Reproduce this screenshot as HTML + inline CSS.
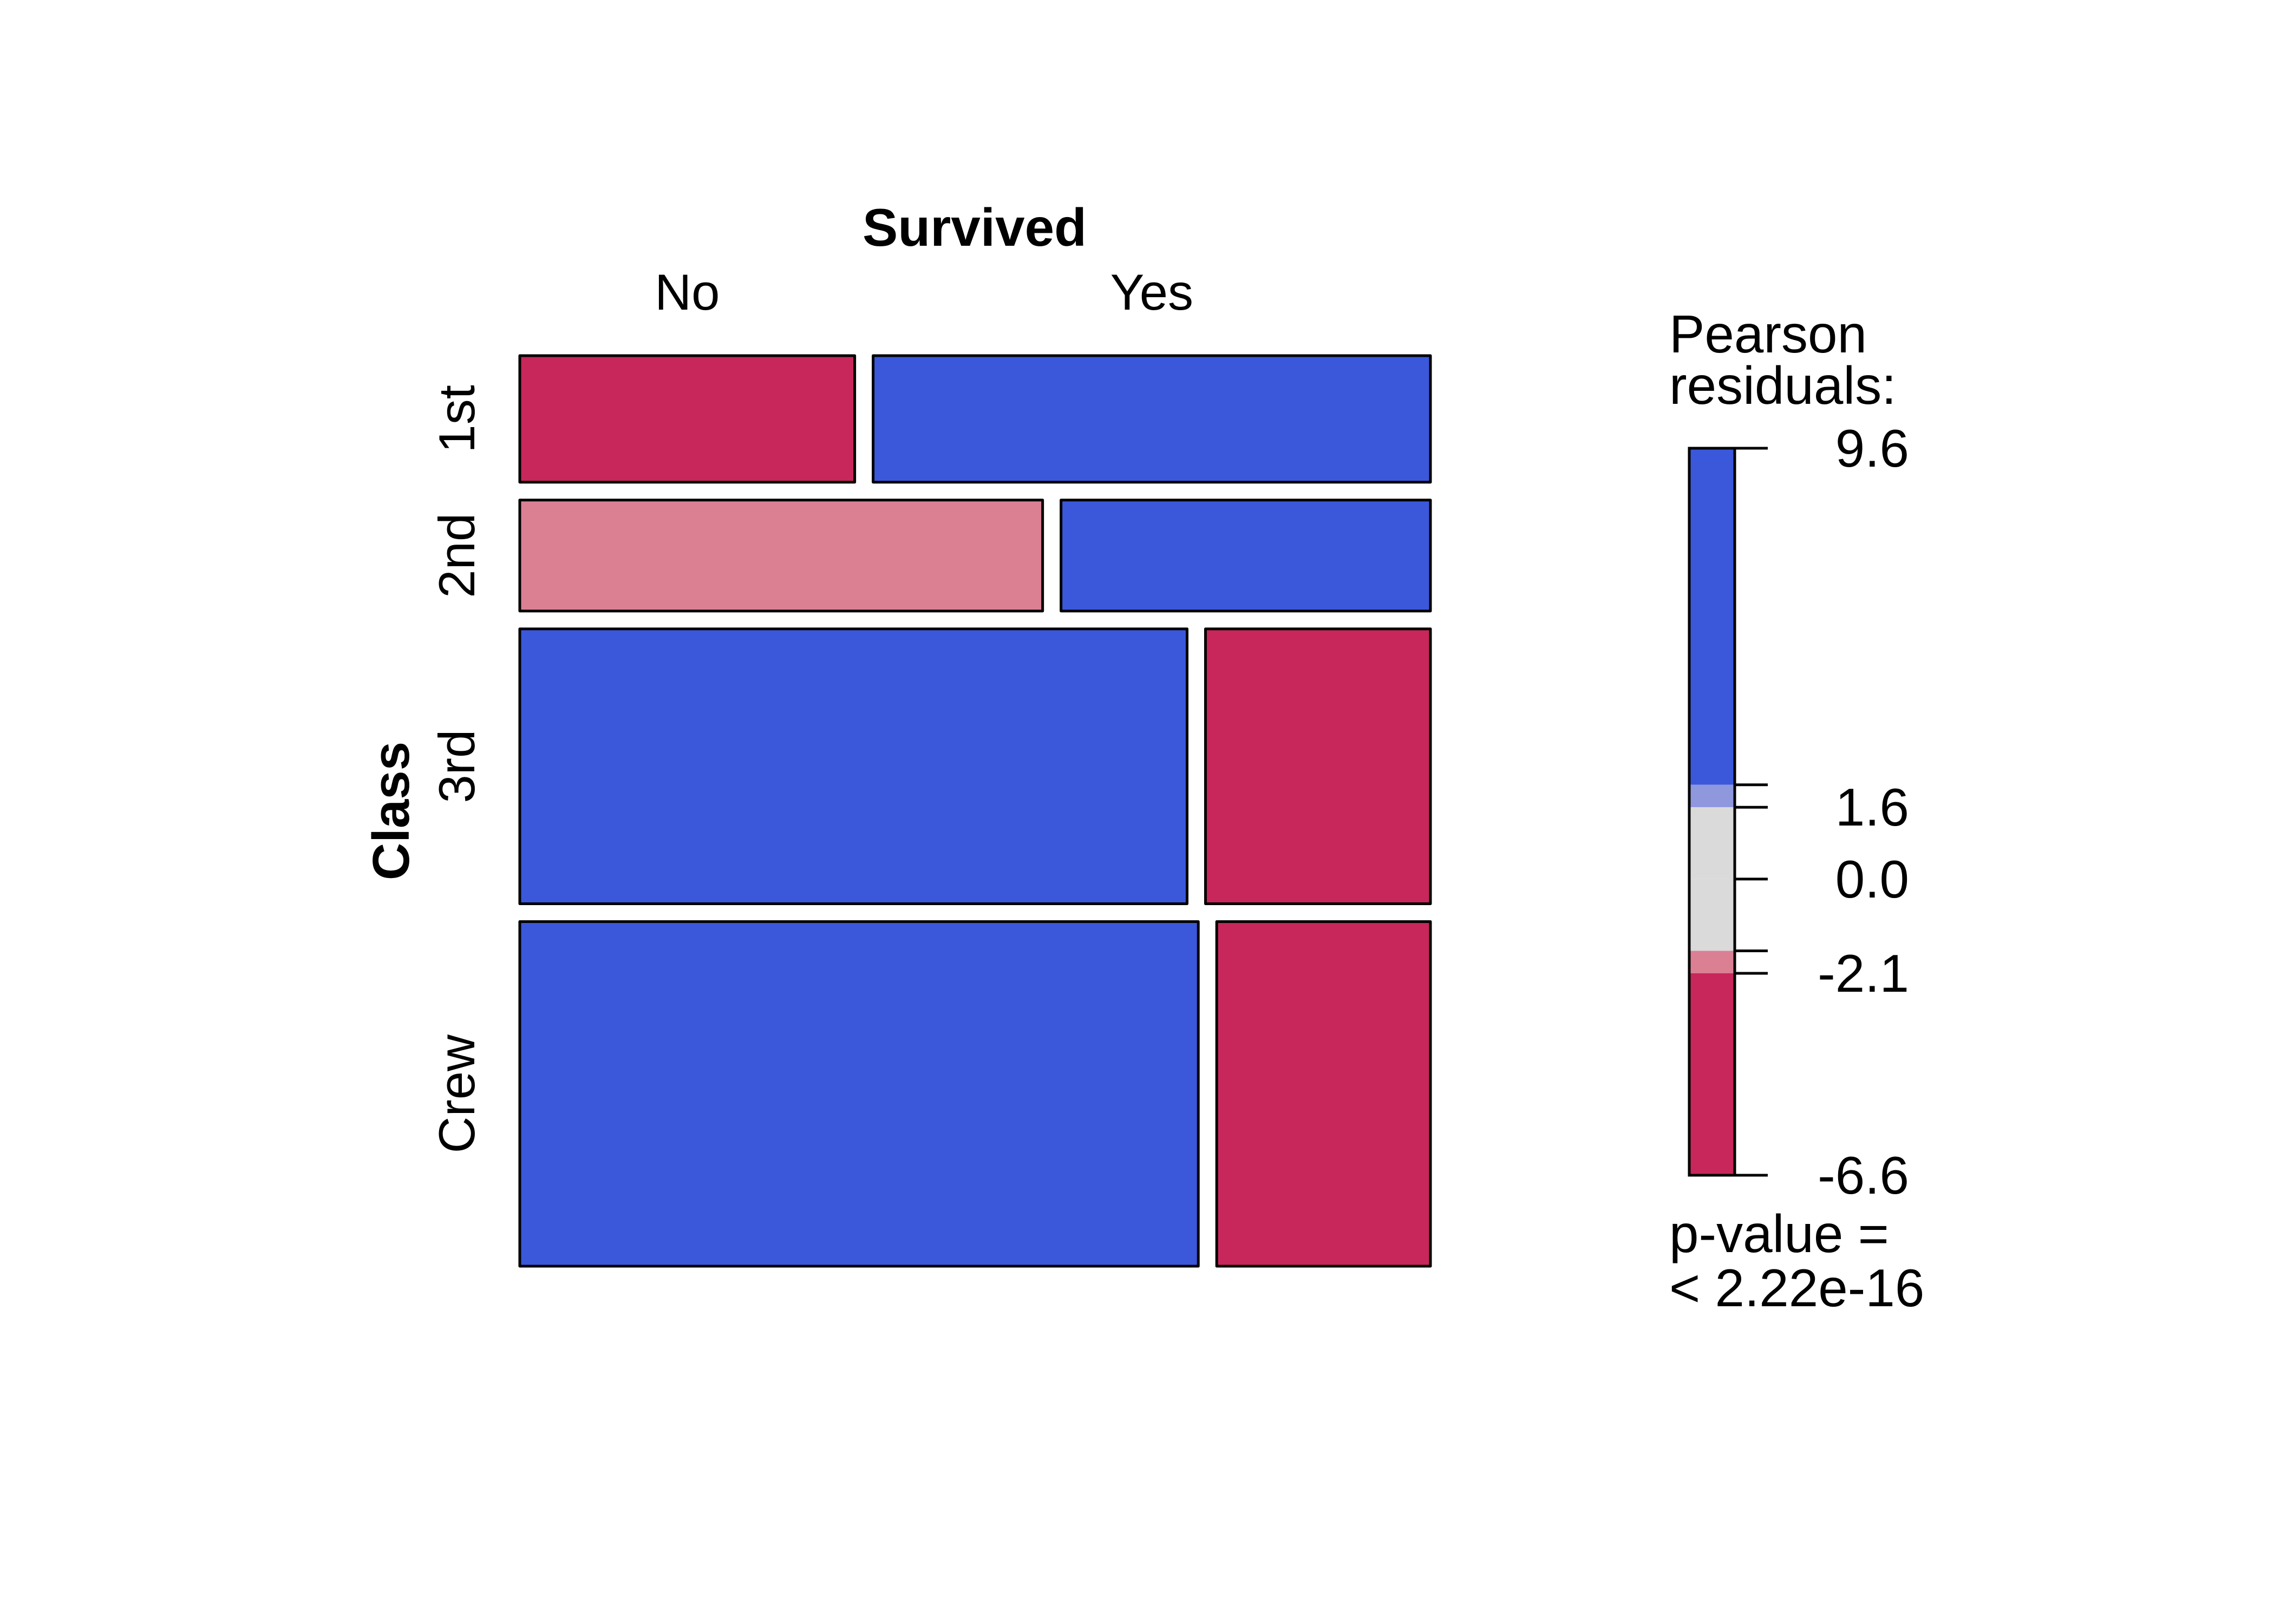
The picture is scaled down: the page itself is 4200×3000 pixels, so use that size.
<!DOCTYPE html>
<html><head><meta charset="utf-8"><style>
html,body{margin:0;padding:0;background:#fff;}
svg{display:block;font-family:"Liberation Sans",Arial,sans-serif;}
</style></head>
<body>
<svg id="chart" width="4200" height="3000" viewBox="0 0 4200 3000" xmlns="http://www.w3.org/2000/svg">
<rect x="0" y="0" width="4200" height="3000" fill="#fff"/>
<g id="cells"></g>
<text x="1800" y="454" font-size="98" font-weight="bold" text-anchor="middle">Survived</text>
<g id="collabels"></g>
<g id="rowlabels"></g>
<text x="0" y="0" font-size="96" font-weight="bold" text-anchor="middle" transform="translate(755,1498) rotate(-90)">Class</text>
<g id="legend"></g>
<text x="3083" y="651" font-size="98">Pearson</text>
<text x="3083" y="746" font-size="98">residuals:</text>
<text x="3083" y="2313" font-size="98">p-value =</text>
<text x="3083" y="2413" font-size="98">&lt; 2.22e-16</text>
</svg>
<script>
const classes = ["1st", "2nd", "3rd", "Crew"];
const survived = ["No", "Yes"];
const countsNo = [122, 167, 528, 673];
const countsYes = [203, 118, 178, 212];
const legendTicks = [9.6, 2.1, 1.6, 0.0, -1.6, -2.1, -6.6];
const legendLabels = ["9.6", "1.6", "0.0", "-2.1", "-6.6"];
const legendLabelValues = [9.6, 1.6, 0.0, -2.1, -6.6];

const NS = "http://www.w3.org/2000/svg";
const X0 = 960, X1 = 2642, Y0 = 657, Y1 = 2339, GX = 34, GY = 33;
const RED = "#C7275A", LRED = "#DB8093", BLUE = "#3B58DB", LBLUE = "#8F98DD", GRAY = "#DADADA";
function colorFor(r){
  if (r > 2.1) return BLUE;
  if (r > 1.6) return LBLUE;
  if (r >= -1.6) return GRAY;
  if (r >= -2.1) return LRED;
  return RED;
}
function mk(tag, attrs, parent){
  const e = document.createElementNS(NS, tag);
  for (const k in attrs) e.setAttribute(k, attrs[k]);
  parent.appendChild(e);
  return e;
}
const rowTot = classes.map((c,i)=>countsNo[i]+countsYes[i]);
const total = rowTot.reduce((a,b)=>a+b,0);
const colTot = [countsNo.reduce((a,b)=>a+b,0), countsYes.reduce((a,b)=>a+b,0)];
const availH = (Y1 - Y0) - GY*(classes.length-1);
const availW = (X1 - X0) - GX;
const cells = document.getElementById("cells");
const rowLab = document.getElementById("rowlabels");
let y = Y0;
classes.forEach((c,i)=>{
  const h = rowTot[i]/total*availH;
  const vals = [countsNo[i], countsYes[i]];
  let x = X0;
  vals.forEach((v,j)=>{
    const w = v/rowTot[i]*availW;
    const exp = rowTot[i]*colTot[j]/total;
    const r = (v-exp)/Math.sqrt(exp);
    const rect = mk("rect", {x:x, y:y, width:w, height:h, fill:colorFor(r), stroke:"#000", "stroke-width":5, "stroke-linejoin":"round"}, cells);
    
    
    x += w + GX;
  });
  const t = mk("text", {x:0, y:0, "font-size":94, "text-anchor":"middle", transform:"translate(876,"+(y+h/2)+") rotate(-90)"}, rowLab);
  t.textContent = c;
  
  
  y += h + GY;
});
const colLab = document.getElementById("collabels");
{
  const w0 = countsNo[0]/rowTot[0]*availW;
  const centers = [X0 + w0/2, X0 + w0 + GX + (availW - w0)/2];
  survived.forEach((s,j)=>{
    const t = mk("text", {x:centers[j], y:572, "font-size":94, "text-anchor":"middle"}, colLab);
    t.textContent = s;
    
    
  });
}
const leg = document.getElementById("legend");
const LT = 828, LB = 2171, LX0 = 3120, LX1 = 3204, TICKX = 3265;
const vmax = legendTicks[0], vmin = legendTicks[legendTicks.length-1];
function ly(v){ return LT + (vmax - v)/(vmax - vmin)*(LB - LT); }
for (let k=0;k<legendTicks.length-1;k++){
  const a = legendTicks[k], b = legendTicks[k+1];
  const mid = (a+b)/2;
  const r = mk("rect", {x:LX0, y:ly(a), width:LX1-LX0, height:ly(b)-ly(a), fill:colorFor(mid)}, leg);
  
  
}
const fr = mk("rect", {x:LX0, y:LT, width:LX1-LX0, height:LB-LT, fill:"none", stroke:"#000", "stroke-width":5}, leg);


legendTicks.forEach(v=>{
  const l = mk("line", {x1:LX1, x2:TICKX, y1:ly(v), y2:ly(v), stroke:"#000", "stroke-width":5}, leg);
  
  
});
legendLabels.forEach((s,k)=>{
  const t = mk("text", {x:3526, y:ly(legendLabelValues[k])+34, "font-size":98, "text-anchor":"end"}, leg);
  t.textContent = s;
  
  
});
</script>
</body></html>
